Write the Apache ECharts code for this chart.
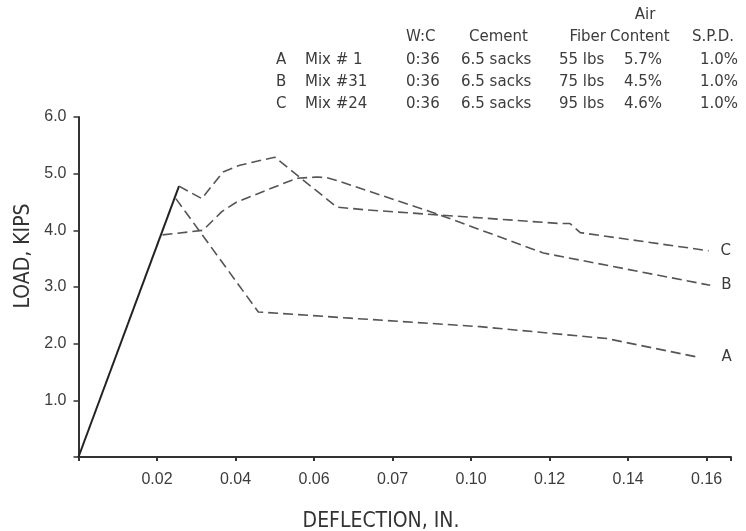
<!DOCTYPE html>
<html>
<head>
<meta charset="utf-8">
<script src="https://cdn.jsdelivr.net/npm/echarts@6/dist/echarts.min.js"></script>
<style>
  html, body { margin: 0; padding: 0; background: #fff; }
  #main { width: 746px; height: 531px; }
</style>
</head>
<body>
<div id="main"></div>
<script>
// load-deflection curves: [deflection in., load kips]
var commonCurve = [[0, 0], [0.0256, 4.78]];
var curveA = [[0.0248, 4.56], [0.0458, 2.56], [0.0692, 2.45], [0.1023, 2.30], [0.1346, 2.09], [0.1579, 1.76]];
var curveB = [[0.0214, 3.92], [0.0317, 4.00], [0.0365, 4.33], [0.0403, 4.50], [0.0556, 4.92], [0.0607, 4.94],
              [0.0632, 4.93], [0.0658, 4.88], [0.0921, 4.27], [0.1184, 3.60], [0.1609, 3.03]];
var curveC = [[0.0256, 4.78], [0.0314, 4.56], [0.0368, 5.03], [0.0411, 5.15], [0.0500, 5.29], [0.0658, 4.41],
              [0.0734, 4.36], [0.0921, 4.27], [0.1227, 4.12], [0.1252, 4.12], [0.1278, 3.96], [0.1605, 3.64]];

var xTickLabels = ['0.02', '0.04', '0.06', '0.07', '0.10', '0.12', '0.14', '0.16'];
var yTickLabels = ['1.0', '2.0', '3.0', '4.0', '5.0', '6.0'];

// mix table above the plot
var tableHeader = ['W:C', 'Cement', 'Fiber', 'Content', 'S.P.D.'];
var mixKeys = ['A', 'B', 'C'];
var mixNames = ['Mix # 1', 'Mix #31', 'Mix #24'];
var mixWC = ['0:36', '0:36', '0:36'];
var mixCement = ['6.5 sacks', '6.5 sacks', '6.5 sacks'];
var mixFiber = ['55 lbs', '75 lbs', '95 lbs'];
var mixAir = ['5.7%', '4.5%', '4.6%'];
var mixSPD = ['1.0%', '1.0%', '1.0%'];

var myChart = echarts.init(document.getElementById('main'));

var txtFont = 'DejaVu Sans';
var txtColor = '#3c3c3c';
var gfx = [];
function addText(x, y, s, extra) {
    var st = { text: s, fontFamily: txtFont, fontSize: 15, fill: txtColor, verticalAlign: 'middle', align: 'left' };
    for (var k in extra) st[k] = extra[k];
    gfx.push({ type: 'text', x: x, y: y, style: st });
}
addText(645, 15, 'Air', { align: 'center' });
var headX = [406, 469, 606, 610, 692];
tableHeader.forEach(function (h, i) {
    addText(headX[i], 37, h, i == 2 ? { align: 'right' } : {});
});
var rowY = [60, 82, 104];
mixKeys.forEach(function (k, i) {
    addText(276, rowY[i], k);
    addText(305, rowY[i], mixNames[i]);
    addText(406, rowY[i], mixWC[i]);
    addText(461, rowY[i], mixCement[i]);
    addText(559, rowY[i], mixFiber[i]);
    addText(624, rowY[i], mixAir[i]);
    addText(700, rowY[i], mixSPD[i]);
});
// axis titles
gfx.push({ type: 'text', x: 381, y: 522, style: { text: 'DEFLECTION, IN.', fontFamily: 'Liberation Sans Narrow, DejaVu Sans Condensed', fontSize: 21, fill: '#333', align: 'center', verticalAlign: 'middle' } });
gfx.push({ type: 'text', x: 24, y: 256, rotation: Math.PI / 2, style: { text: 'LOAD, KIPS', fontFamily: 'Liberation Sans Narrow, DejaVu Sans Condensed', fontSize: 21, fill: '#333', align: 'center', verticalAlign: 'middle' } });

function dashed(name, data, dist) {
    return {
        name: name, type: 'line', data: data, symbol: 'none', silent: true,
        lineStyle: { color: '#555', width: 1.6, type: [10, 5] },
        endLabel: { show: true, formatter: name, distance: dist, fontFamily: txtFont, fontSize: 15, color: txtColor }
    };
}

var option = {
    animation: false,
    backgroundColor: '#fff',
    grid: { left: 78.5, right: 15, top: 117, bottom: 74 },
    graphic: gfx,
    xAxis: {
        type: 'value', min: 0, max: 0.1662, interval: 0.02,
        splitLine: { show: false },
        axisLine: { lineStyle: { color: '#333', width: 2 } },
        axisTick: { show: true, length: 4, lineStyle: { color: '#333', width: 2 } },
        axisLabel: {
            margin: 15, fontFamily: 'Liberation Sans', fontSize: 16, color: txtColor,
            formatter: function (v) {
                var i = Math.round(v / 0.02);
                if (Math.abs(v - i * 0.02) > 1e-6 || i < 1) return '';
                return xTickLabels[i - 1] || '';
            }
        }
    },
    yAxis: {
        type: 'value', min: 0, max: 6, interval: 1,
        splitLine: { show: false },
        axisLine: { show: true, lineStyle: { color: '#333', width: 2 } },
        axisTick: { show: true, length: 5, lineStyle: { color: '#333', width: 1.5 } },
        axisLabel: {
            margin: 12, fontFamily: 'Liberation Sans', fontSize: 16, color: txtColor,
            formatter: function (v) {
                var i = Math.round(v);
                return i >= 1 ? yTickLabels[i - 1] : '';
            }
        }
    },
    series: [
        { name: 'common', type: 'line', data: commonCurve, symbol: 'none', silent: true,
          lineStyle: { color: '#222', width: 2 } },
        dashed('A', curveA, 23),
        dashed('B', curveB, 11),
        dashed('C', curveC, 12)
    ]
};
myChart.setOption(option);
</script>
</body>
</html>
